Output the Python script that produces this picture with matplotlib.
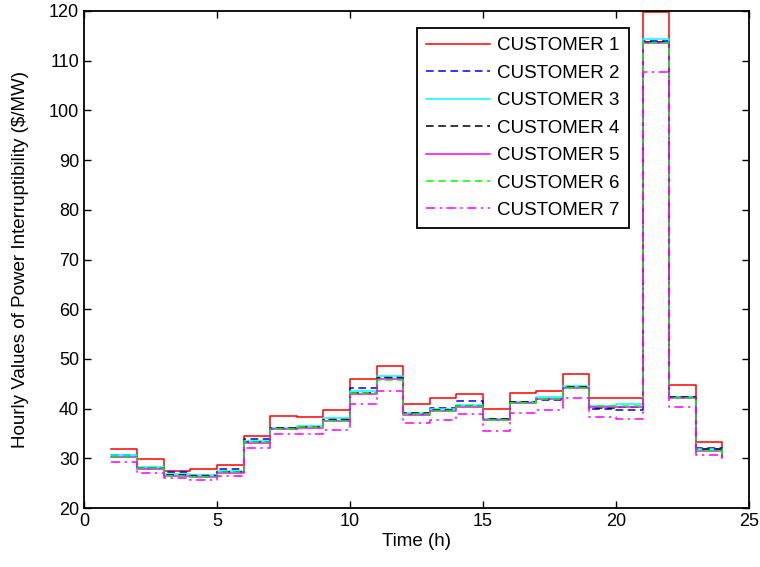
import matplotlib
matplotlib.use("Agg")
import matplotlib.pyplot as plt
import numpy as np

plt.rcParams["font.family"] = ["Liberation Sans", "DejaVu Sans"]

# hourly interruptibility values ($/MW), hours 1..24
hours = np.arange(1, 25)

cust1 = [31.9, 29.9, 27.5, 27.8, 28.7, 34.5, 38.6, 38.3, 39.7, 45.9, 48.5, 40.9,
         42.1, 42.9, 40.0, 43.2, 43.5, 47.0, 42.1, 42.1, 119.8, 44.7, 33.3, 32.0]
cust2 = [30.6, 28.1, 27.2, 26.6, 27.8, 33.9, 36.0, 36.4, 38.0, 44.2, 46.3, 39.0,
         40.1, 41.5, 38.0, 41.3, 41.8, 44.4, 40.0, 39.7, 113.9, 42.3, 32.0, 30.5]
cust3 = [30.7, 28.2, 26.8, 26.6, 27.4, 33.4, 36.2, 36.6, 38.2, 43.5, 46.5, 39.1,
         39.9, 40.7, 37.9, 41.4, 42.3, 44.6, 40.5, 40.9, 114.4, 42.4, 31.8, 30.4]
cust4 = [30.3, 28.0, 26.6, 26.5, 27.2, 33.2, 36.1, 36.4, 37.8, 43.2, 46.2, 39.1,
         39.7, 40.6, 37.9, 41.4, 42.0, 44.3, 40.2, 40.3, 113.7, 42.4, 31.8, 30.3]
cust5 = [30.2, 27.9, 26.5, 26.2, 27.1, 33.0, 35.9, 36.2, 37.6, 43.0, 45.9, 38.8,
         39.5, 40.4, 37.7, 41.1, 41.9, 44.1, 40.4, 40.4, 113.5, 42.1, 31.5, 30.1]
cust6 = [30.3, 28.0, 26.5, 26.2, 27.2, 33.2, 36.0, 36.3, 37.6, 43.1, 45.8, 38.9,
         39.5, 40.5, 37.8, 41.2, 42.0, 44.1, 40.5, 40.5, 113.5, 42.1, 31.5, 30.2]
cust7 = [29.2, 27.1, 26.1, 25.7, 26.5, 32.1, 34.8, 34.8, 35.8, 40.9, 43.5, 37.1,
         37.7, 38.9, 35.4, 39.1, 39.7, 42.1, 38.3, 38.0, 107.7, 40.4, 30.7, 29.5]

series = [cust1, cust2, cust3, cust4, cust5, cust6, cust7]
labels = [f"CUSTOMER {i}" for i in range(1, 8)]

colors = ["#FF0000", "#0000FF", "#00FFFF", "#000000", "#FF00FF", "#00FF00", "#FF00FF"]
dashes = [None, (5, 3), None, (5, 3), None, (5, 3), (6, 3, 1.5, 3)]

fig = plt.figure(figsize=(7.6, 5.67), dpi=100)
ax = fig.add_axes([0.1105, 0.104, 0.875, 0.8766])

for vals, lab, col, ds in zip(series, labels, colors, dashes):
    line, = ax.step(hours, vals, where="post", color=col, lw=1.1, label=lab)
    if ds is not None:
        line.set_dashes(ds)

ax.set_xlim(0, 25)
ax.set_ylim(20, 120)
ax.set_xticks(np.arange(0, 26, 5))
ax.set_yticks(np.arange(20, 121, 10))
ax.tick_params(direction="in", top=True, right=True, labelsize=13, length=5, width=1)
for sp in ax.spines.values():
    sp.set_linewidth(1.3)

ax.set_xlabel("Time (h)", fontsize=13.5, labelpad=2)
ax.set_ylabel("Hourly Values of Power Interruptibility ($/MW)", fontsize=13.5, labelpad=14)

leg = ax.legend(loc="upper right", bbox_to_anchor=(0.820, 0.966), fontsize=13.5,
                handlelength=3.4, handletextpad=0.4, labelspacing=0.55,
                borderpad=0.5, borderaxespad=0, fancybox=False, framealpha=1,
                edgecolor="black")
leg.get_frame().set_linewidth(1.3)

plt.savefig("out.png", dpi=100)
plt.close()
